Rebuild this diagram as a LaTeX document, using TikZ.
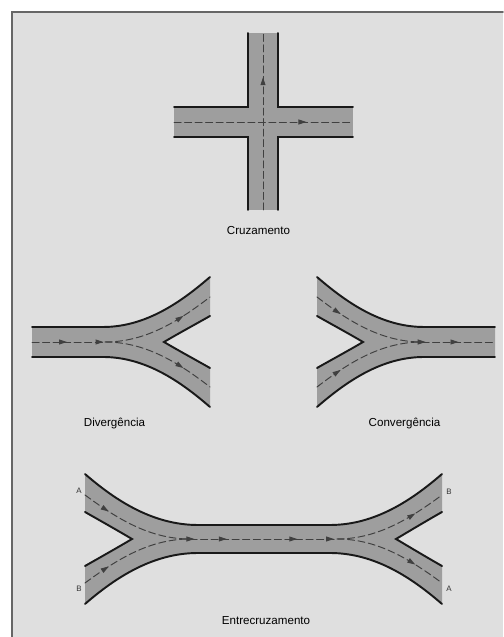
\documentclass[tikz,border=0pt]{standalone}
\usepackage{fontspec}
\setmainfont{Liberation Sans}
\usetikzlibrary{arrows.meta,decorations.markings}
\definecolor{panelgray}{gray}{0.875}
\definecolor{roadgray}{gray}{0.62}
\definecolor{framegray}{gray}{0.4}
\tikzset{
  road/.style={fill=roadgray},
  curb/.style={line width=1.1pt,black!90,line cap=round},
  lane/.style={line width=0.55pt,black!75,dash pattern=on 4pt off 2pt},
  flow/.style={postaction={decorate,decoration={markings,mark=at position #1 with {\arrow{Stealth[length=1.6mm,width=1mm,inset=0pt]}}}}},
  caption/.style={font=\fontsize{6.6}{8}\selectfont,black},
  endletter/.style={font=\fontsize{4.5}{6}\selectfont,black!80}
}
\begin{document}
\begin{tikzpicture}[line cap=round]
\useasboundingbox (0,0) rectangle (10.06,12.74);
\fill[white] (0,0) rectangle (10.06,12.74);
\fill[panelgray] (0.24,0) rectangle (10.06,12.5);
\draw[framegray,line width=1pt] (0.24,0) -- (0.24,12.5) -- (10.06,12.5);
% crossing
\fill[road] (4.96,8.54) rectangle (5.56,12.08);
\fill[road] (3.48,10) rectangle (7.06,10.6);
\draw[curb] (4.96,12.08) -- (4.96,10.6) -- (3.48,10.6);
\draw[curb] (5.56,12.08) -- (5.56,10.6) -- (7.06,10.6);
\draw[curb] (4.96,8.54) -- (4.96,10) -- (3.48,10);
\draw[curb] (5.56,8.54) -- (5.56,10) -- (7.06,10);
\draw[lane,flow=0.75] (5.26,8.54) -- (5.26,12.08);
\draw[lane,flow=0.74] (3.48,10.3) -- (7.06,10.3);
\node[caption] (cruzamento) at (5.17,8.12) {Cruzamento};
% diverging
\fill[road] (0.64,6.2) -- (2.06,6.2) .. controls (2.9,6.2) and (3.6,6.68) .. (4.2,7.2) -- (4.2,6.42) .. controls (3.9,6.25) and (3.55,6.06) .. (3.28,5.9) .. controls (3.55,5.74) and (3.9,5.55) .. (4.2,5.38) -- (4.2,4.6) .. controls (3.6,5.12) and (2.9,5.6) .. (2.06,5.6) -- (0.64,5.6) -- cycle;
\draw[curb] (0.64,6.2) -- (2.06,6.2) .. controls (2.9,6.2) and (3.6,6.68) .. (4.2,7.2);
\draw[curb] (4.2,6.42) .. controls (3.9,6.25) and (3.55,6.06) .. (3.28,5.9) .. controls (3.55,5.74) and (3.9,5.55) .. (4.2,5.38);
\draw[curb] (0.64,5.6) -- (2.06,5.6) .. controls (2.9,5.6) and (3.6,5.12) .. (4.2,4.6);
\draw[lane,flow=0.48,flow=0.98] (0.64,5.9) -- (2.1,5.9);
\draw[lane,flow=0.72] (2.1,5.9) .. controls (2.9,5.9) and (3.55,6.3) .. (4.2,6.8);
\draw[lane,flow=0.72] (2.1,5.9) .. controls (2.9,5.9) and (3.55,5.5) .. (4.2,5);
\node[caption] (divergencia) at (2.29,4.28) {Divergência};
% converging
\fill[road] (9.9,6.2) -- (8.48,6.2) .. controls (7.64,6.2) and (6.94,6.68) .. (6.34,7.2) -- (6.34,6.42) .. controls (6.64,6.25) and (6.99,6.06) .. (7.26,5.9) .. controls (6.99,5.74) and (6.64,5.55) .. (6.34,5.38) -- (6.34,4.6) .. controls (6.94,5.12) and (7.64,5.6) .. (8.48,5.6) -- (9.9,5.6) -- cycle;
\draw[curb] (9.9,6.2) -- (8.48,6.2) .. controls (7.64,6.2) and (6.94,6.68) .. (6.34,7.2);
\draw[curb] (6.34,6.42) .. controls (6.64,6.25) and (6.99,6.06) .. (7.26,5.9) .. controls (6.99,5.74) and (6.64,5.55) .. (6.34,5.38);
\draw[curb] (9.9,5.6) -- (8.48,5.6) .. controls (7.64,5.6) and (6.94,5.12) .. (6.34,4.6);
\draw[lane,flow=0.25] (6.34,6.8) .. controls (6.99,6.3) and (7.64,5.9) .. (8.44,5.9);
\draw[lane,flow=0.25] (6.34,5) .. controls (6.99,5.5) and (7.64,5.9) .. (8.44,5.9);
\draw[lane,flow=0.05,flow=0.5] (8.44,5.9) -- (9.9,5.9);
\node[caption] (convergencia) at (8.09,4.28) {Convergência};
% weaving
\fill[road] (1.7,3.26) .. controls (2.3,2.74) and (3.05,2.24) .. (3.96,2.24) -- (6.6,2.24) .. controls (7.5,2.24) and (8.24,2.74) .. (8.84,3.26) -- (8.84,2.5) .. controls (8.54,2.33) and (8.19,2.12) .. (7.92,1.96) .. controls (8.19,1.8) and (8.54,1.59) .. (8.84,1.42) -- (8.84,0.66) .. controls (8.24,1.18) and (7.5,1.68) .. (6.6,1.68) -- (3.96,1.68) .. controls (3.05,1.68) and (2.3,1.18) .. (1.7,0.66) -- (1.7,1.42) .. controls (2,1.59) and (2.37,1.8) .. (2.64,1.96) .. controls (2.37,2.12) and (2,2.33) .. (1.7,2.5) -- cycle;
\draw[curb] (1.7,3.26) .. controls (2.3,2.74) and (3.05,2.24) .. (3.96,2.24) -- (6.6,2.24) .. controls (7.5,2.24) and (8.24,2.74) .. (8.84,3.26);
\draw[curb] (1.7,0.66) .. controls (2.3,1.18) and (3.05,1.68) .. (3.96,1.68) -- (6.6,1.68) .. controls (7.5,1.68) and (8.24,1.18) .. (8.84,0.66);
\draw[curb] (1.7,2.5) .. controls (2,2.33) and (2.37,2.12) .. (2.64,1.96) .. controls (2.37,1.8) and (2,1.59) .. (1.7,1.42);
\draw[curb] (8.84,2.5) .. controls (8.54,2.33) and (8.19,2.12) .. (7.92,1.96) .. controls (8.19,1.8) and (8.54,1.59) .. (8.84,1.42);
\draw[lane,flow=0.25] (1.7,2.84) .. controls (2.35,2.36) and (3,1.96) .. (3.8,1.96);
\draw[lane,flow=0.25] (1.7,1.08) .. controls (2.35,1.56) and (3,1.96) .. (3.8,1.96);
\draw[lane,flow=0.03,flow=0.25,flow=0.73,flow=0.98] (3.8,1.96) -- (6.74,1.96);
\draw[lane,flow=0.72] (6.74,1.96) .. controls (7.54,1.96) and (8.19,2.36) .. (8.84,2.84);
\draw[lane,flow=0.72] (6.74,1.96) .. controls (7.54,1.96) and (8.19,1.56) .. (8.84,1.08);
\node[endletter] (leftA) at (1.58,2.92) {A};
\node[endletter] (leftB) at (1.58,0.96) {B};
\node[endletter] (rightB) at (8.98,2.9) {B};
\node[endletter] (rightA) at (8.98,0.96) {A};
\node[caption] (entrecruzamento) at (5.32,0.32) {Entrecruzamento};
\end{tikzpicture}
\end{document}
